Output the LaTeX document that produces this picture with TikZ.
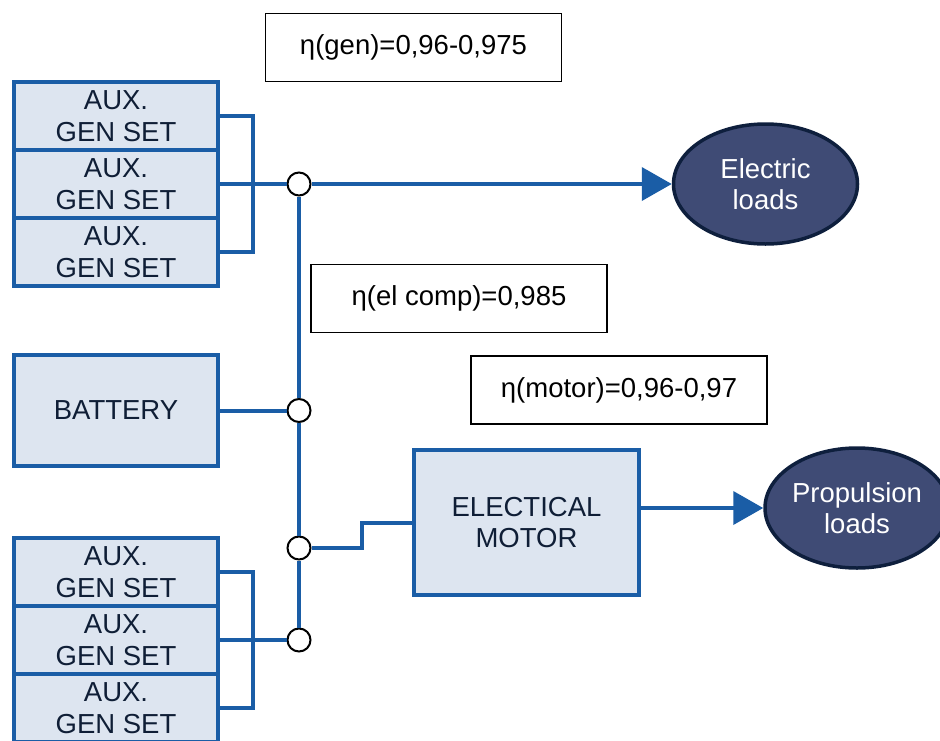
\documentclass[tikz,border=0pt]{standalone}
\usepackage{fontspec}
\setmainfont{Liberation Sans}
\usetikzlibrary{arrows.meta,shapes.geometric}
\definecolor{busblue}{HTML}{1A5DA6}
\definecolor{boxfill}{HTML}{DDE5F0}
\definecolor{boxtext}{HTML}{0F1E36}
\definecolor{loadfill}{HTML}{3F4B75}
\definecolor{loadedge}{HTML}{0E1F3D}

\begin{document}
\begin{tikzpicture}[x=1pt,y=-1pt,
  unitbox/.style={draw=busblue, fill=boxfill, line width=4pt, text=boxtext,
    minimum width=204pt, minimum height=68pt, align=center, inner sep=0pt,
    font=\fontsize{27.5}{31.5}\selectfont},
  etabox/.style={draw=black, line width=1.6pt, minimum width=296pt,
    minimum height=68pt, inner sep=0pt, font=\fontsize{27.5}{31.5}\selectfont},
  load/.style={ellipse, draw=loadedge, fill=loadfill, line width=3.5pt,
    text=white, minimum width=184pt, minimum height=120pt, inner sep=0pt,
    align=center, font=\fontsize{27.5}{31.5}\selectfont},
  junction/.style={circle, draw=black, fill=white, line width=2pt,
    minimum size=23pt, inner sep=0pt},
  bus/.style={draw=busblue, line width=4pt},
  feed/.style={bus, -{Triangle[length=30pt,width=33pt]}}]

\clip (0,0) rectangle (940,740);
\useasboundingbox (0,0) rectangle (940,740);

% efficiency labels
\node[etabox] (etagen) at (413.5,47.5) {η(gen)=0,96-0,975};
\node[etabox] (etacomp) at (459,298.5) {η(el comp)=0,985};
\node[etabox] (etamot) at (619,390) {η(motor)=0,96-0,97};

% upper generator group
\node[unitbox] (g1) at (116,116) {AUX.\\GEN SET};
\node[unitbox] (g2) at (116,184) {AUX.\\GEN SET};
\node[unitbox] (g3) at (116,252) {AUX.\\GEN SET};

% battery
\node[unitbox, minimum height=111pt] (bat) at (116,410.5) {BATTERY};

% lower generator group
\node[unitbox] (g4) at (116,572) {AUX.\\GEN SET};
\node[unitbox] (g5) at (116,640) {AUX.\\GEN SET};
\node[unitbox] (g6) at (116,708) {AUX.\\GEN SET};

% motor
\node[unitbox, minimum width=225pt, minimum height=145pt] (mot) at (526.5,522.5) {ELECTICAL\\MOTOR};

% loads
\node[load] (el) at (765.5,184) {Electric\\loads};
\node[load] (pl) at (857,508) {Propulsion\\loads};

% junctions on the main bus
\node[junction] (c1) at (299,184) {};
\node[junction] (c2) at (299,410.5) {};
\node[junction] (c3) at (299,548) {};
\node[junction] (c4) at (299,640) {};

\coordinate (tb) at (253,0);
\coordinate (jog) at (362,548);

% generator brackets
\draw[bus] (g1.east) -- (g1.east -| tb) -- (g3.east -| tb) -- (g3.east);
\draw[bus] (g4.east) -- (g4.east -| tb) -- (g6.east -| tb) -- (g6.east);

% feeders into the bus
\draw[bus] (g2.east) -- (c1);
\draw[bus] (bat.east) -- (c2);
\draw[bus] (g5.east) -- (c4);

% main bus
\draw[bus] (c1) -- (c2);
\draw[bus] (c2) -- (c3);
\draw[bus] (c3) -- (c4);

% motor supply
\draw[bus] (c3) -- (jog) |- (mot.west);

% outputs to loads
\draw[feed] (c1) -- (el);
\draw[feed] (mot.east |- pl.west) -- (pl.west);
\end{tikzpicture}
\end{document}
